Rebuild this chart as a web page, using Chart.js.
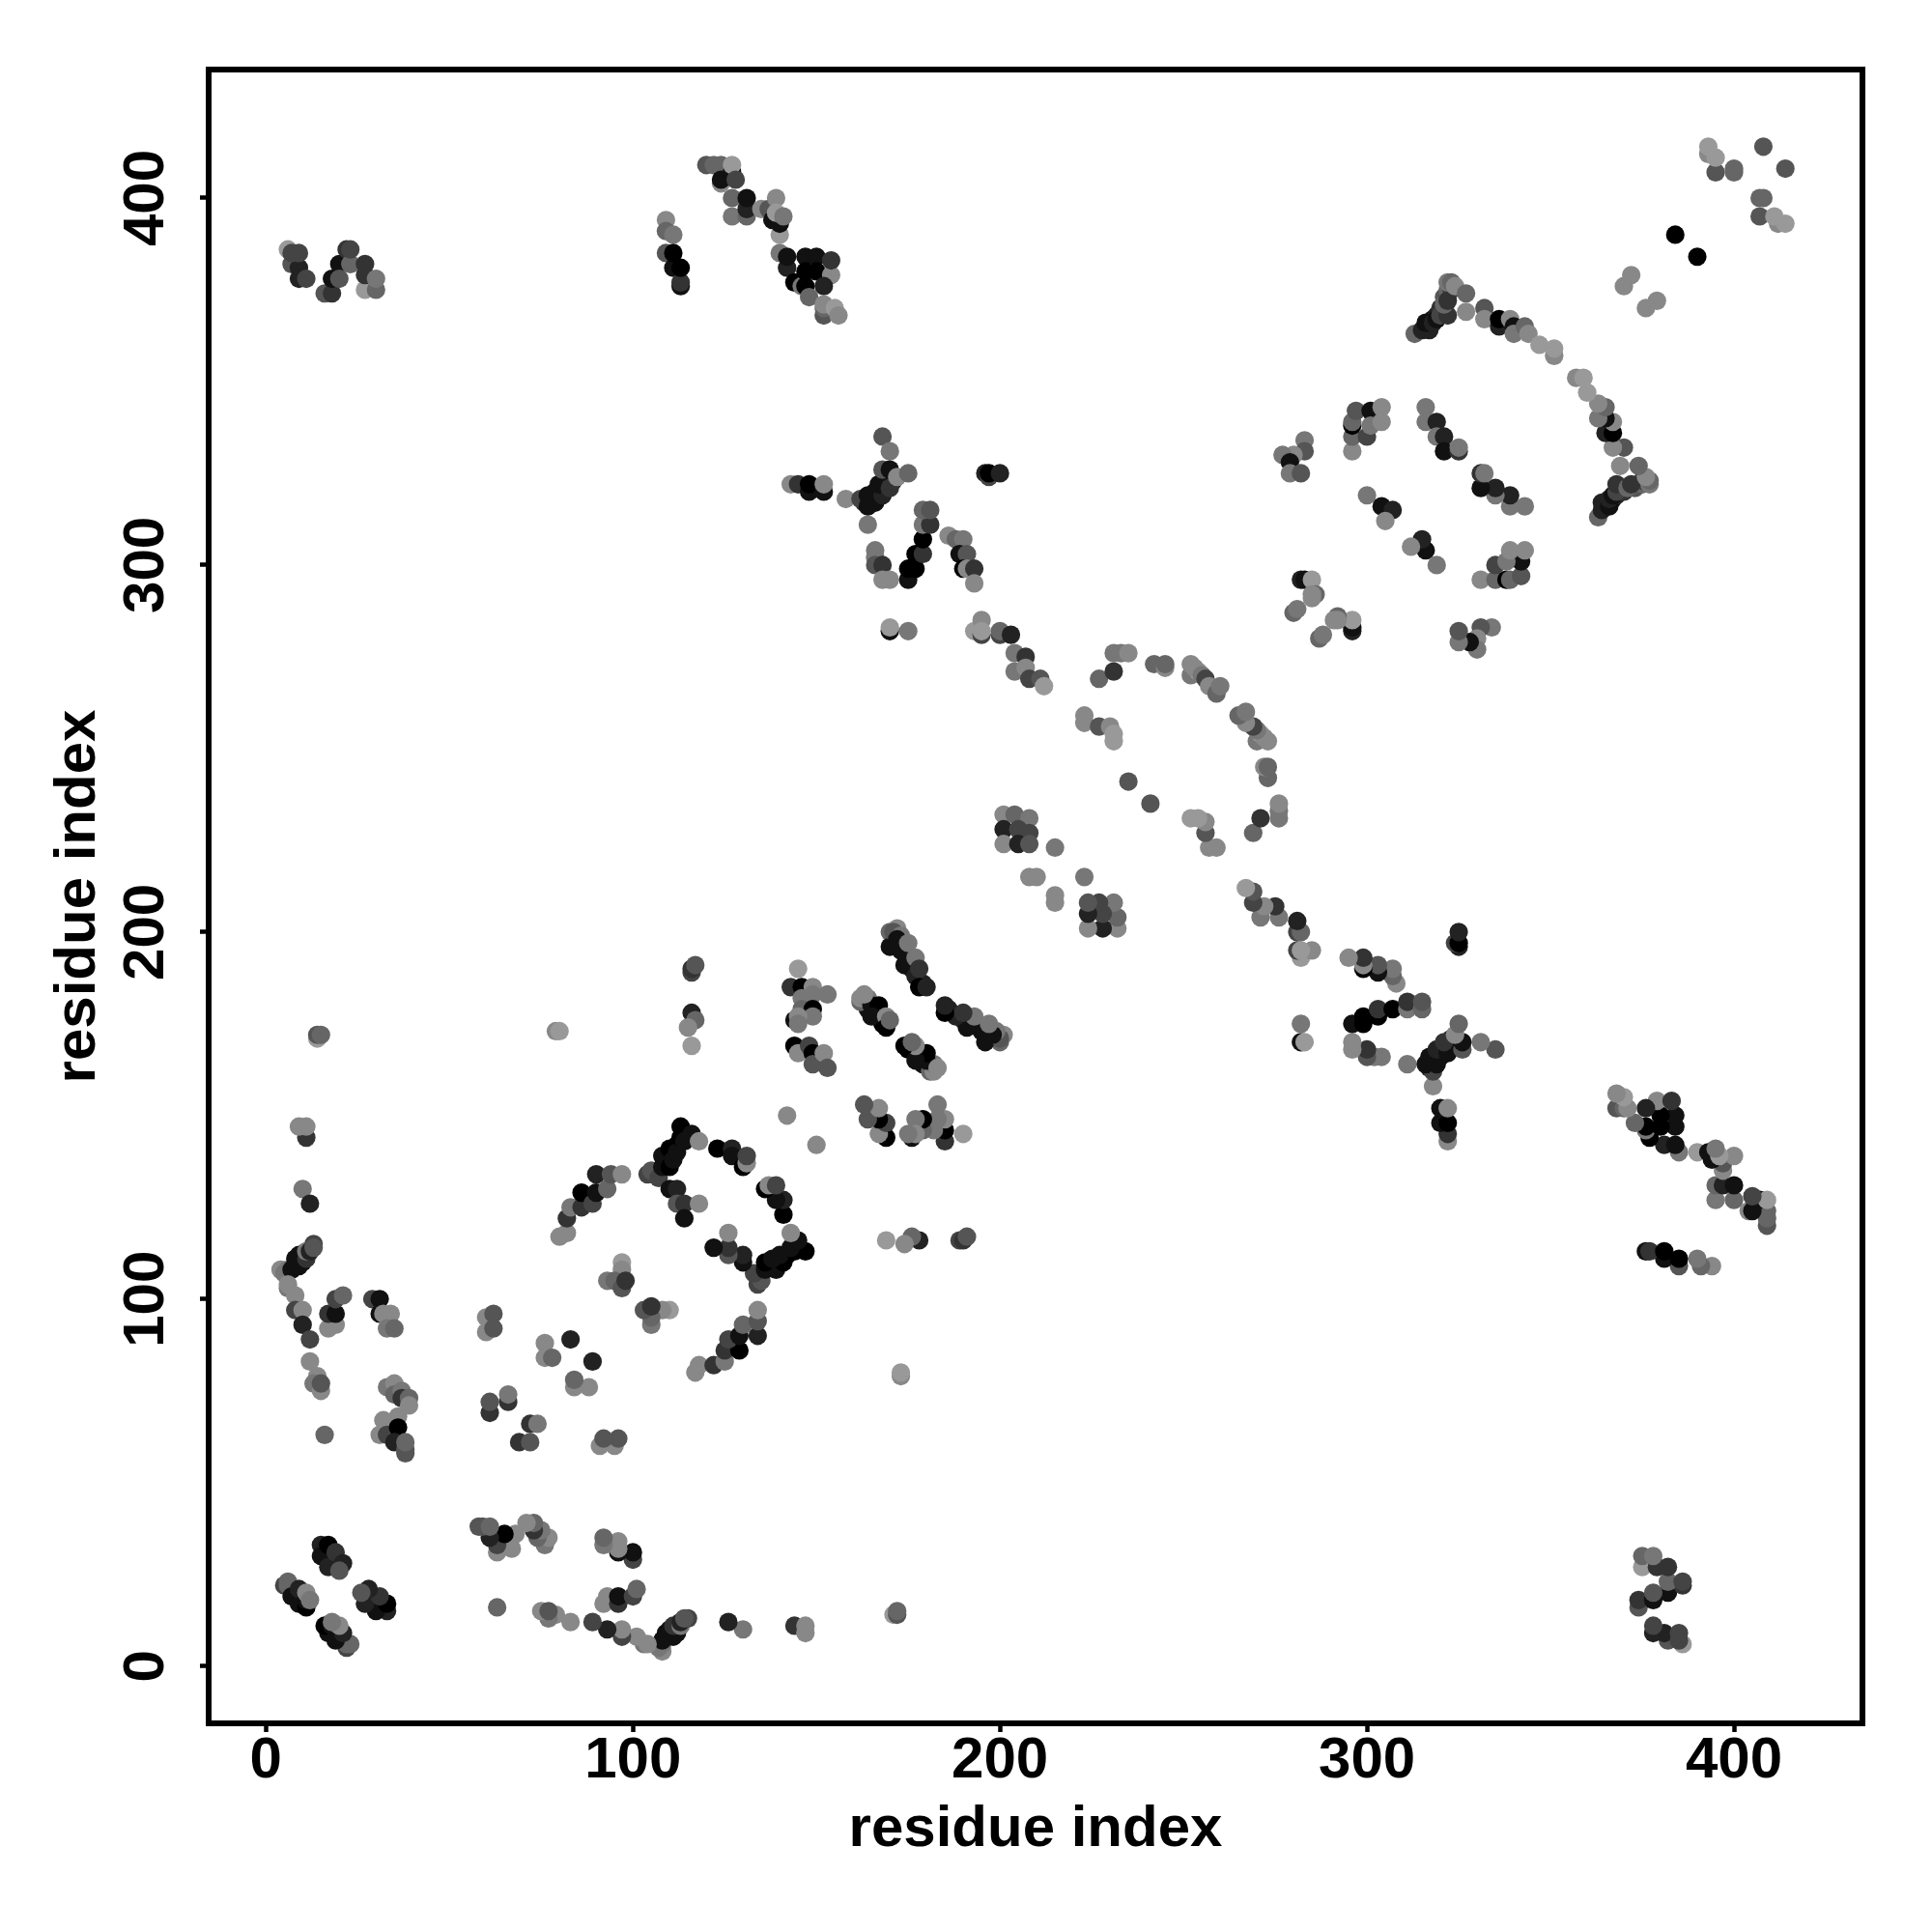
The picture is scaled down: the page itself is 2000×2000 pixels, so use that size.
<!DOCTYPE html>
<html>
<head>
<meta charset="utf-8">
<title>residue contacts</title>
<script src="https://cdn.jsdelivr.net/npm/chart.js@4"></script>
<style>
  html, body { margin: 0; padding: 0; background: #fff; }
  canvas { display: block; }
</style>
</head>
<body>
<canvas id="contactChart" width="2000" height="2000"></canvas>
<script>
// contacts, one line per cluster
const upperX = [
  6,7,9,9,7,9,11,16,18,18,20,20,22,23,23,27,30,27,27,30,
  109,109,111,109,111,113,113,111,113,
  120,122,124,124,124,127,127,128,127,127,131,131,131,135,137,138,139,140,140,139,141,140,142,142,144,146,147,147,147,150,150,154,154,152,148,152,152,152,155,156,
  143,145,148,148,152,152,158,
  163,165,167,168,169,171,168,170,164,162,164,166,164,166,168,167,169,170,168,170,172,175,
  196,197,197,200,
  166,166,166,168,168,170,175,175,177,177,179,179,179,181,179,181,186,188,190,189,191,190,191,193,193,
  170,170,175,
  193,195,195,195,200,200,203,204,207,204,207,208,211,212,
  201,204,208,201,205,208,201,205,208,215,208,210,
  227,231,231,233,235,242,245,245,252,252,254,253,255,256,257,259,260,
  223,223,227,230,231,231,235,
  145,143,146,149,146,149,153,146,149,149,144,145,145,144,145,148,149,149,152,153,
  166,168,164,162,162,164,165,167,165,169,169,170,163,
  175,176,179,170,172,170,171,173,173,172,175,174,177,177,178,178,180,
  142,
  14,14,15,
  11,9,11,
  10,12,
  4,5,6,7,8,8,9,9,10,11,11,12,13,13,
  6,6,8,8,10,10,12,
  17,19,17,19,19,21,
  29,31,31,32,34,33,35,
  12,14,13,15,15,
  16,
  33,35,35,37,37,39,39,36,32,31,33,36,35,38,38,38,
  60,62,60,62,
  76,76,78,83,
  61,61,66,66,
  80,82,82,83,86,86,89,90,93,90,94,97,
  104,105,107,108,108,110,110,111,112,112,113,113,114,116,118,
  110,112,112,114,114,118,
  123,127,127,130,131,131,
  97,97,93,95,97,98,
  116,116,117,116,117,115,116,
  79,80,
  384,370,372,
  393,393,395,395,400,400,408,
  316,317,318,319,320,321,322,323,313,315,317,316,318,319,320,322,321,322,322,323,324,327,327,332,332,336,336,339,340,340,343,344,347,351,351,
  296,296,296,296,297,301,300,301,304,304,
  316,316,319,319,321,321,325,325,
  300,304,307,305,
  283,283,280,277,279,279,282,
  280,281,282,283,285,286,285,285,
  7,8,10,5,6,6,7,9,11,9,11,11,12,
  16,18,19,15,15,17,17,19,21,20
];
const upperY = [
  386,382,381,378,385,385,378,374,374,378,382,378,386,382,386,375,375,379,382,378,
  394,391,390,385,381,376,377,385,381,
  409,409,409,404,405,407,409,405,400,395,395,397,400,397,397,394,400,390,393,396,395,385,381,384,377,376,384,380,376,384,380,379,383,376,373,368,370,371,370,368,
  322,322,320,322,320,322,318,
  317,318,319,321,322,323,335,331,311,318,316,317,319,320,319,322,324,321,326,326,324,325,
  325,324,325,325,
  304,302,300,300,296,296,296,299,299,303,303,307,311,311,315,315,308,307,307,303,303,299,299,299,295,
  282,283,282,
  282,285,281,282,281,282,281,276,275,271,272,269,269,267,
  232,232,231,228,228,227,224,224,224,223,215,215,
  269,271,276,276,276,273,272,273,270,273,271,272,270,269,267,265,267,
  259,257,256,256,252,254,241,
  190,185,185,185,182,183,183,179,179,177,176,177,175,169,167,169,167,164,167,163,
  178,175,179,181,182,182,180,180,177,177,174,176,183,
  193,190,186,200,201,196,200,199,195,198,197,191,193,188,190,185,185,
  150,
  171,172,172,
  144,147,147,
  130,126,
  108,107,108,108,111,109,109,112,110,111,113,113,115,114,
  103,104,101,97,97,93,89,
  92,93,96,96,100,101,
  100,100,96,96,96,92,92,
  83,79,77,75,77,
  63,
  76,77,74,75,73,73,71,68,67,63,63,65,61,58,59,61,
  95,96,91,92,
  88,84,84,89,
  69,72,72,74,
  117,118,122,125,125,129,126,129,130,134,134,134,
  134,135,133,136,139,136,141,138,142,140,144,147,143,145,143,
  130,130,126,126,122,126,
  141,141,139,136,137,139,
  110,108,105,105,103,105,
  189,190,191,178,176,174,169,
  173,173,
  390,376,379,
  412,414,407,411,407,408,414,
  365,366,367,368,370,373,375,375,363,364,364,366,366,367,368,368,371,372,377,377,376,374,369,370,367,365,367,367,365,363,365,363,360,357,359,
  331,335,338,339,342,342,335,338,339,343,
  343,339,339,335,335,331,331,332,
  319,316,315,312,
  334,331,330,330,328,325,325,
  287,288,296,296,296,292,292,291,
  21,20,18,22,23,22,19,17,16,21,18,20,18,
  31,29,28,33,30,33,27,31,28,26
];
// 0 = black ... 9 = lightest grey
const upperShade = [
  9,5,2,2,4,4,4,5,3,1,1,5,3,6,4,9,6,3,3,7,
  8,6,7,5,1,1,3,0,0,
  5,6,6,8,1,1,9,4,6,7,6,2,1,8,5,1,8,9,1,9,7,7,2,1,0,7,1,0,0,1,0,8,3,2,6,5,6,8,9,8,
  8,3,1,0,1,8,8,
  2,1,1,1,1,2,5,7,7,4,1,1,1,1,2,1,1,3,5,1,8,6,
  2,4,0,2,
  7,7,5,3,8,8,1,0,0,0,3,0,7,3,6,5,8,6,7,1,5,0,8,3,8,
  1,9,7,
  9,8,4,9,4,6,2,7,3,7,8,4,5,9,
  8,6,7,2,4,4,8,2,5,7,8,8,
  6,3,7,7,8,6,8,6,7,8,9,8,7,4,8,6,7,
  8,8,5,8,9,9,5,
  9,3,0,8,7,7,7,6,0,7,1,8,7,0,8,4,0,5,8,5,
  1,0,1,6,8,7,1,0,1,8,0,6,8,
  1,2,2,6,8,1,5,7,1,1,7,1,7,2,3,0,2,
  8,
  9,5,6,
  3,8,8,
  7,2,
  8,7,7,1,1,1,1,1,1,3,7,2,4,5,
  7,8,8,4,8,2,4,
  8,8,3,1,4,6,
  4,1,1,8,8,7,6,
  8,8,7,8,5,
  6,
  7,8,6,7,3,6,8,8,8,8,4,0,2,5,5,6,
  8,5,8,5,
  8,8,6,2,
  3,5,3,7,
  8,8,3,7,3,0,4,1,6,2,5,8,
  4,5,4,1,1,0,0,1,0,1,0,0,1,1,8,
  1,2,5,3,1,8,
  0,2,1,0,8,4,
  9,8,7,6,5,3,
  4,3,5,2,6,8,9,
  8,9,
  0,8,8,
  8,9,5,9,6,6,5,
  1,1,1,2,3,5,6,4,6,2,2,1,2,1,4,3,6,3,7,6,8,6,8,5,8,2,0,8,1,7,6,8,9,8,9,
  8,6,0,6,5,1,4,7,8,8,
  7,7,2,7,2,1,3,7,
  7,1,2,8,
  7,5,8,7,1,7,5,
  6,7,2,1,9,6,8,8,
  3,1,1,4,6,6,1,1,0,2,1,8,7,
  1,1,2,2,1,0,2,3,2,5
];

const lowerX = [
  386,382,381,378,385,385,378,374,374,378,382,378,386,382,386,375,375,379,382,378,
  394,391,390,385,381,376,377,385,381,
  409,409,409,404,405,407,409,405,400,395,395,397,400,397,397,394,400,390,393,396,395,385,381,384,377,376,384,380,376,384,380,379,383,376,373,368,370,371,370,368,
  322,322,320,322,320,322,318,
  317,318,319,321,322,323,335,331,311,318,316,317,319,320,319,322,324,321,326,326,324,325,
  325,324,325,325,
  304,302,300,300,296,296,296,299,299,303,303,307,311,311,315,315,308,307,307,303,303,299,299,299,295,
  282,283,282,
  282,285,281,282,281,282,281,276,275,271,272,269,269,267,
  232,232,231,228,228,227,224,224,224,223,215,215,
  269,271,276,276,276,273,272,273,270,273,271,272,270,269,267,265,267,
  259,257,256,256,252,254,241,
  190,185,185,185,182,183,183,179,179,177,176,177,175,169,167,169,167,164,167,163,
  178,175,179,181,182,182,180,180,177,177,174,176,183,
  193,190,186,200,201,196,200,199,195,198,197,191,193,188,190,185,185,
  150,
  171,172,172,
  144,147,147,
  130,126,
  108,107,108,108,111,109,109,112,110,111,113,113,115,114,
  103,104,101,97,97,93,89,
  92,93,96,96,100,101,
  100,100,96,96,96,92,92,
  83,79,77,75,77,
  63,
  76,77,74,75,73,73,71,68,67,63,63,65,61,58,59,61,
  95,96,91,92,
  88,84,84,89,
  69,72,72,74,
  117,118,122,125,125,129,126,129,130,134,134,134,
  134,135,133,136,139,136,141,138,142,140,144,147,143,145,143,
  130,130,126,126,122,126,
  141,141,139,136,137,139,
  110,108,105,105,103,105,
  189,190,191,178,176,174,169,
  173,173,
  390,376,379,
  412,414,407,411,407,408,414,
  365,366,367,368,370,373,375,375,363,364,364,366,366,367,368,368,371,372,377,377,376,374,369,370,367,365,367,367,365,363,365,363,360,357,359,
  331,335,338,339,342,342,335,338,339,343,
  343,339,339,335,335,331,331,332,
  319,316,315,312,
  334,331,330,330,328,325,325,
  287,288,296,296,296,292,292,291,
  21,20,18,22,23,22,19,17,16,21,18,20,18,
  31,29,28,33,30,33,27,31,28,26
];
const lowerY = [
  6,7,9,9,7,9,11,16,18,18,20,20,22,23,23,27,30,27,27,30,
  109,109,111,109,111,113,113,111,113,
  120,122,124,124,124,127,127,128,127,127,131,131,131,135,137,138,139,140,140,139,141,140,142,142,144,146,147,147,147,150,150,154,154,152,148,152,152,152,155,156,
  143,145,148,148,152,152,158,
  163,165,167,168,169,171,168,170,164,162,164,166,164,166,168,167,169,170,168,170,172,175,
  196,197,197,200,
  166,166,166,168,168,170,175,175,177,177,179,179,179,181,179,181,186,188,190,189,191,190,191,193,193,
  170,170,175,
  193,195,195,195,200,200,203,204,207,204,207,208,211,212,
  201,204,208,201,205,208,201,205,208,215,208,210,
  227,231,231,233,235,242,245,245,252,252,254,253,255,256,257,259,260,
  223,223,227,230,231,231,235,
  145,143,146,149,146,149,153,146,149,149,144,145,145,144,145,148,149,149,152,153,
  166,168,164,162,162,164,165,167,165,169,169,170,163,
  175,176,179,170,172,170,171,173,173,172,175,174,177,177,178,178,180,
  142,
  14,14,15,
  11,9,11,
  10,12,
  4,5,6,7,8,8,9,9,10,11,11,12,13,13,
  6,6,8,8,10,10,12,
  17,19,17,19,19,21,
  29,31,31,32,34,33,35,
  12,14,13,15,15,
  16,
  33,35,35,37,37,39,39,36,32,31,33,36,35,38,38,38,
  60,62,60,62,
  76,76,78,83,
  61,61,66,66,
  80,82,82,83,86,86,89,90,93,90,94,97,
  104,105,107,108,108,110,110,111,112,112,113,113,114,116,118,
  110,112,112,114,114,118,
  123,127,127,130,131,131,
  97,97,93,95,97,98,
  116,116,117,116,117,115,116,
  79,80,
  384,370,372,
  393,393,395,395,400,400,408,
  316,317,318,319,320,321,322,323,313,315,317,316,318,319,320,322,321,322,322,323,324,327,327,332,332,336,336,339,340,340,343,344,347,351,351,
  296,296,296,296,297,301,300,301,304,304,
  316,316,319,319,321,321,325,325,
  300,304,307,305,
  283,283,280,277,279,279,282,
  280,281,282,283,285,286,285,285,
  7,8,10,5,6,6,7,9,11,9,11,11,12,
  16,18,19,15,15,17,17,19,21,20
];
const lowerShade = [
  9,5,2,2,4,4,4,5,3,1,1,5,3,6,4,9,6,3,3,7,
  8,6,7,5,1,1,3,0,0,
  5,6,6,8,1,1,9,4,6,7,6,2,1,8,5,1,8,9,1,9,7,7,2,1,0,7,1,0,0,1,0,8,3,2,6,5,6,8,9,8,
  8,3,1,0,1,8,8,
  2,1,1,1,1,2,5,7,7,4,1,1,1,1,2,1,1,3,5,1,8,6,
  2,4,0,2,
  7,7,5,3,8,8,1,0,0,0,3,0,7,3,6,5,8,6,7,1,5,0,8,3,8,
  1,9,7,
  9,8,4,9,4,6,2,7,3,7,8,4,5,9,
  8,6,7,2,4,4,8,2,5,7,8,8,
  6,3,7,7,8,6,8,6,7,8,9,8,7,4,8,6,7,
  8,8,5,8,9,9,5,
  9,3,0,8,7,7,7,6,0,7,1,8,7,0,8,4,0,5,8,5,
  1,0,1,6,8,7,1,0,1,8,0,6,8,
  1,2,2,6,8,1,5,7,1,1,7,1,7,2,3,0,2,
  8,
  9,5,6,
  3,8,8,
  7,2,
  8,7,7,1,1,1,1,1,1,3,7,2,4,5,
  7,8,8,4,8,2,4,
  8,8,3,1,4,6,
  4,1,1,8,8,7,6,
  8,8,7,8,5,
  6,
  7,8,6,7,3,6,8,8,8,8,4,0,2,5,5,6,
  8,5,8,5,
  8,8,6,2,
  3,5,3,7,
  8,8,3,7,3,0,4,1,6,2,5,8,
  4,5,4,1,1,0,0,1,0,1,0,0,1,1,8,
  1,2,5,3,1,8,
  0,2,1,0,8,4,
  9,8,7,6,5,3,
  4,3,5,2,6,8,9,
  8,9,
  0,8,8,
  8,9,5,9,6,6,5,
  1,1,1,2,3,5,6,4,6,2,2,1,2,1,4,3,6,3,7,6,8,6,8,5,8,2,0,8,1,7,6,8,9,8,9,
  8,6,0,6,5,1,4,7,8,8,
  7,7,2,7,2,1,3,7,
  7,1,2,8,
  7,5,8,7,1,7,5,
  6,7,2,1,9,6,8,8,
  3,1,1,4,6,6,1,1,0,2,1,8,7,
  1,1,2,2,1,0,2,3,2,5
];
const tickValues = [0, 100, 200, 300, 400];
const axisLabel = "residue index";

const FONT = '"Liberation Sans", Arimo, Helvetica, Arial, sans-serif';

function grey(s) {
  const v = s * 17;
  return "rgb(" + v + "," + v + "," + v + ")";
}

function contactSet(xs, ys, shades) {
  return {
    data: xs.map((x, i) => ({ x: x, y: ys[i] })),
    backgroundColor: shades.map(grey),
    borderWidth: 0,
    pointRadius: 9.6,
    pointHoverRadius: 9.6,
  };
}

// R style box round the plot
const frame = {
  id: "frame",
  afterDraw(chart) {
    const a = chart.chartArea, c = chart.ctx;
    c.save();
    c.strokeStyle = "#000";
    c.lineWidth = 6;
    c.lineJoin = "miter";
    c.strokeRect(a.left, a.top, a.right - a.left, a.bottom - a.top);
    c.restore();
  },
};

function axis(size, titlePad, tickOpts) {
  return {
    type: "linear",
    min: -15.6,
    max: 435,
    afterBuildTicks: (s) => { s.ticks = tickValues.map((v) => ({ value: v })); },
    afterFit: (s) => { s[size] = 216; },
    border: { display: false },
    grid: { drawOnChartArea: false, drawTicks: true, tickLength: 9, tickWidth: 4.5, tickColor: "#000" },
    ticks: Object.assign({
      color: "#000",
      font: { family: FONT, weight: "bold", size: 60 },
      callback: (v) => String(v),
    }, tickOpts),
    title: {
      display: true,
      text: axisLabel,
      color: "#000",
      font: { family: FONT, weight: "bold", size: 60 },
      padding: titlePad,
    },
  };
}

new Chart(document.getElementById("contactChart").getContext("2d"), {
  type: "scatter",
  data: {
    datasets: [
      contactSet(upperX, upperY, upperShade),
      contactSet(lowerX, lowerY, lowerShade),
    ],
  },
  options: {
    responsive: false,
    animation: false,
    devicePixelRatio: 1,
    layout: { padding: { top: 72, right: 72, left: 0, bottom: 0 } },
    scales: {
      x: axis("height", { top: 0, bottom: 70 }, { padding: -6, maxRotation: 0, minRotation: 0 }),
      y: axis("width", { top: 45, bottom: 0 }, { padding: 4, minRotation: 90, maxRotation: 90, crossAlign: "center" }),
    },
    plugins: {
      legend: { display: false },
      tooltip: { enabled: false },
    },
  },
  plugins: [frame],
});
</script>
</body>
</html>
